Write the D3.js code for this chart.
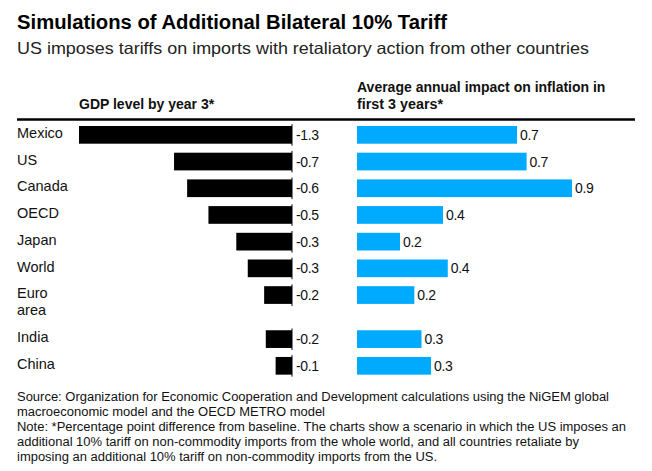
<!DOCTYPE html>
<html>
<head>
<meta charset="utf-8">
<script src="https://cdn.jsdelivr.net/npm/d3@7"></script>
<style>
body{margin:0;background:#fff;}
svg{display:block;font-family:"Liberation Sans",Arial,sans-serif;}
</style>
</head>
<body>
<div id="chart"></div>
<script>
// data
const countries = ["Mexico","US","Canada","OECD","Japan","World","Euro area","India","China"];
const gdpLevel = [-1.3,-0.72,-0.64,-0.51,-0.34,-0.27,-0.17,-0.16,-0.1];
const inflation = [0.67,0.71,0.9,0.36,0.18,0.38,0.24,0.27,0.31];
const titleText = "Simulations of Additional Bilateral 10% Tariff";
const subtitleText = "US imposes tariffs on imports with retaliatory action from other countries";
const gdpHeader = ["GDP level by year 3*"];
const inflationHeader = ["Average annual impact on inflation in","first 3 years*"];
const footLines = [
    "Source: Organization for Economic Cooperation and Development calculations using the NiGEM global",
    "macroeconomic model and the OECD METRO model",
    "Note: *Percentage point difference from baseline. The charts show a scenario in which the US imposes an",
    "additional 10% tariff on non-commodity imports from the whole world, and all countries retaliate by",
    "imposing an additional 10% tariff on non-commodity imports from the US."
];

const W = 652, H = 471;
const fmt = d3.formatLocale({decimal:".",thousands:",",grouping:[3],currency:["",""],minus:"-"}).format(".1f");

// squeeze a text to a target width if the local font runs wider/narrower
function fit(sel, w){
    sel.each(function(){
        const n = this.getComputedTextLength();
        if (Math.abs(n - w) > 1) d3.select(this).attr("textLength", w).attr("lengthAdjust","spacingAndGlyphs");
    });
}

const svg = d3.select("#chart").append("svg").attr("width",W).attr("height",H);

svg.append("text").attr("x",17).attr("y",29)
    .style("font-size","20px").style("font-weight","bold").attr("fill","#000")
    .text(titleText).call(fit,430);
svg.append("text").attr("x",17).attr("y",54)
    .style("font-size","16.5px").attr("fill","#222")
    .text(subtitleText).call(fit,572);

// headers
svg.append("text").attr("x",79).attr("y",109)
    .style("font-size","14px").style("font-weight","bold").attr("fill","#111")
    .text(gdpHeader[0]).call(fit,136);
const hdrWidths = [249,86];
inflationHeader.forEach((t,i) => {
    svg.append("text").attr("x",357).attr("y",92 + i*17)
        .style("font-size","14px").style("font-weight","bold").attr("fill","#111")
        .text(t).call(fit,hdrWidths[i]);
});

svg.append("line").attr("x1",17).attr("x2",635).attr("y1",119.5).attr("y2",119.5)
    .attr("stroke","#000").attr("stroke-width",2.4);

// rows: wrapped labels push later rows down
const rows = countries.map((c,i) => ({name:c, words:c.split(" "), gdp:gdpLevel[i], inf:inflation[i]}));
let acc = 0;
rows.forEach(r => { r.offset = acc; acc += 1 + (r.words.length - 1) * 0.65; });

const y = d3.scaleLinear().domain([0,acc]).range([122, 122 + acc*26.7]);
const barH = 17.7;
const xGdp = d3.scaleLinear().domain([d3.min(gdpLevel),0]).range([79,292]);
const xInf = d3.scaleLinear().domain([0,d3.max(inflation)]).range([357,572]);

const row = svg.append("g").selectAll("g").data(rows).enter().append("g")
    .attr("transform", d => `translate(0,${y(d.offset) + 4})`);

row.append("text").attr("x",17).attr("y",12)
    .style("font-size","14.5px").attr("fill","#111")
    .selectAll("tspan").data(d => d.words).enter().append("tspan")
    .attr("x",17).attr("dy",(d,i) => i ? 17 : 0).text(d => d);

row.append("rect")
    .attr("x", d => xGdp(d.gdp)).attr("width", d => xGdp(0) - xGdp(d.gdp))
    .attr("height",barH).attr("fill","#000");
row.append("line").attr("x1",xGdp(0)).attr("x2",xGdp(0)).attr("y1",-1.8).attr("y2",barH + 2)
    .attr("stroke","#000").attr("stroke-width",1);
row.append("text").attr("x",xGdp(0) + 4).attr("y",barH/2).attr("dy","0.36em")
    .style("font-size","14px").style("letter-spacing","-0.4px").attr("fill","#111")
    .text(d => fmt(d.gdp));

row.append("rect")
    .attr("x", xInf(0)).attr("width", d => xInf(d.inf) - xInf(0))
    .attr("height",barH).attr("fill","#00aaff");
row.append("text").attr("x", d => xInf(d.inf) + 3).attr("y",barH/2).attr("dy","0.36em")
    .style("font-size","14px").style("letter-spacing","-0.4px").attr("fill","#111")
    .text(d => fmt(d.inf));

// footnotes
const footW = [592,308,609,562,420];
footLines.forEach((t,i) => {
    svg.append("text").attr("x",17).attr("y",400.7 + i*15.1)
        .style("font-size","12.5px").attr("fill","#111")
        .text(t).call(fit,footW[i]);
});
</script>
</body>
</html>
